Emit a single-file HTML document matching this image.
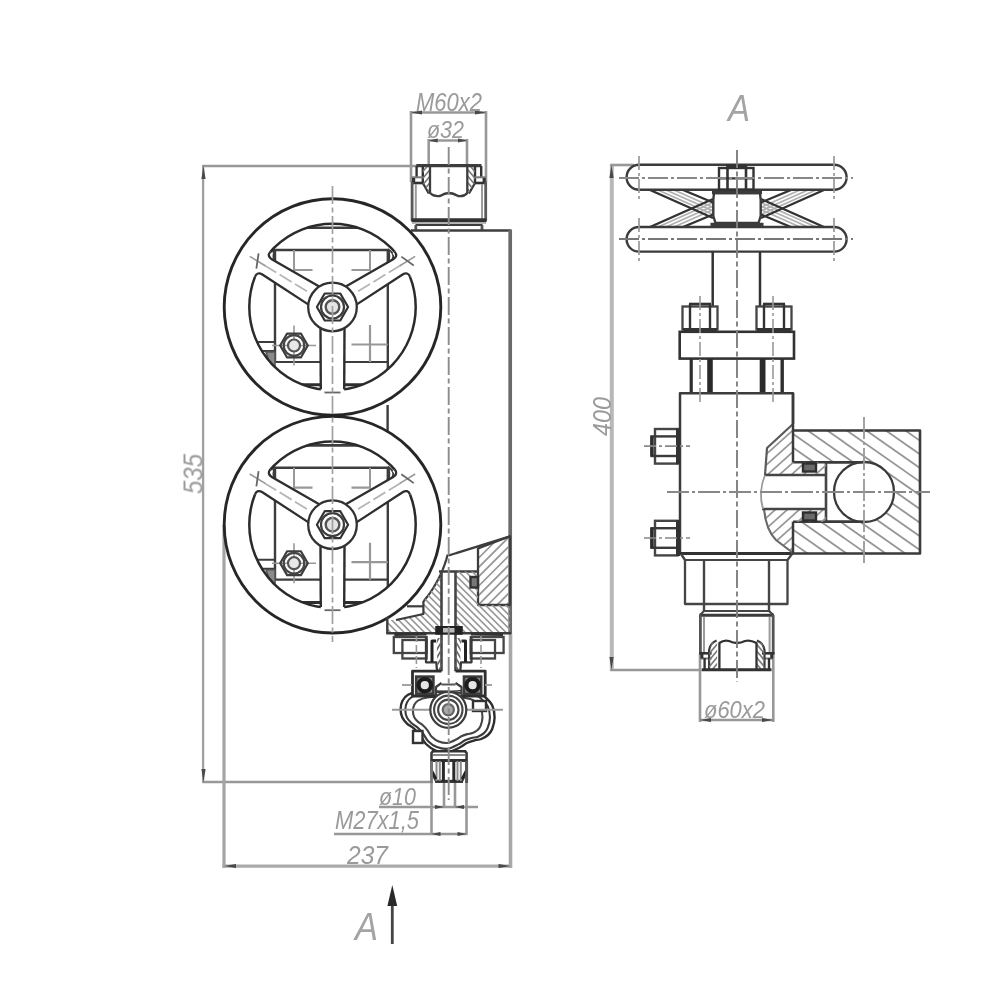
<!DOCTYPE html>
<html lang="ru">
<head>
<meta charset="utf-8">
<title>Drawing</title>
<style>
html,body{margin:0;padding:0;background:#fff;}
body{width:1000px;height:1000px;overflow:hidden;}
svg{display:block;position:absolute;left:0;top:0;}
svg text{font-family:"Liberation Sans",sans-serif;font-style:italic;}
</style>
</head>
<body>
<svg width="1000" height="1000" viewBox="0 0 1000 1000">
<defs><filter id="bl" x="0" y="0" width="1000" height="1000" filterUnits="userSpaceOnUse"><feGaussianBlur stdDeviation="0.55"/></filter></defs>
<rect x="0" y="0" width="1000" height="1000" fill="#ffffff"/>
<g filter="url(#bl)">
<line x1="203.1" y1="165" x2="203.1" y2="783" stroke="#a0a0a0" stroke-width="2.3" stroke-linecap="butt"/>
<line x1="202.5" y1="166" x2="417" y2="166" stroke="#989898" stroke-width="2.6" stroke-linecap="butt"/>
<line x1="202.5" y1="782" x2="432" y2="782" stroke="#989898" stroke-width="2.6" stroke-linecap="butt"/>
<polygon points="203.5,166 205.6,179 201.4,179" fill="#484848"/>
<polygon points="203.5,782 201.4,769 205.6,769" fill="#484848"/>
<line x1="224" y1="525" x2="224" y2="868" stroke="#a4a4a4" stroke-width="3.2" stroke-linecap="butt"/>
<line x1="510.5" y1="634" x2="510.5" y2="868" stroke="#a8a8a8" stroke-width="3.6" stroke-linecap="butt"/>
<line x1="222.5" y1="866.2" x2="512" y2="866.2" stroke="#aaaaaa" stroke-width="3.3" stroke-linecap="butt"/>
<polygon points="224,866 236,863.9 236,868.1" fill="#484848"/>
<polygon points="510.5,866 498.5,868.1 498.5,863.9" fill="#484848"/>
<line x1="411" y1="111" x2="411" y2="182" stroke="#989898" stroke-width="2.6" stroke-linecap="butt"/>
<line x1="486" y1="111" x2="486" y2="182" stroke="#989898" stroke-width="2.6" stroke-linecap="butt"/>
<line x1="411" y1="112.5" x2="486" y2="112.5" stroke="#989898" stroke-width="2.6" stroke-linecap="butt"/>
<polygon points="411,112.5 422,110.4 422,114.6" fill="#484848"/>
<polygon points="486,112.5 475,114.6 475,110.4" fill="#484848"/>
<line x1="428.7" y1="139" x2="428.7" y2="166" stroke="#989898" stroke-width="2.6" stroke-linecap="butt"/>
<line x1="467" y1="139" x2="467" y2="166" stroke="#989898" stroke-width="2.6" stroke-linecap="butt"/>
<line x1="428.7" y1="140.5" x2="467" y2="140.5" stroke="#989898" stroke-width="2.6" stroke-linecap="butt"/>
<polygon points="428.7,140.5 437.7,138.4 437.7,142.6" fill="#484848"/>
<polygon points="467,140.5 458,142.6 458,138.4" fill="#484848"/>
<line x1="444" y1="782" x2="444" y2="808" stroke="#989898" stroke-width="2.6" stroke-linecap="butt"/>
<line x1="455" y1="782" x2="455" y2="808" stroke="#989898" stroke-width="2.6" stroke-linecap="butt"/>
<line x1="379" y1="807" x2="478" y2="807" stroke="#989898" stroke-width="2.6" stroke-linecap="butt"/>
<polygon points="444,807 435,809.1 435,804.9" fill="#484848"/>
<polygon points="455,807 464,804.9 464,809.1" fill="#484848"/>
<line x1="431.5" y1="782" x2="431.5" y2="835" stroke="#989898" stroke-width="2.6" stroke-linecap="butt"/>
<line x1="466.5" y1="782" x2="466.5" y2="835" stroke="#989898" stroke-width="2.6" stroke-linecap="butt"/>
<line x1="334" y1="834" x2="467" y2="834" stroke="#989898" stroke-width="2.6" stroke-linecap="butt"/>
<polygon points="431.5,834 440.5,831.9 440.5,836.1" fill="#484848"/>
<polygon points="466.5,834 457.5,836.1 457.5,831.9" fill="#484848"/>
<line x1="611.8" y1="164" x2="611.8" y2="671" stroke="#b8b8b8" stroke-width="4" stroke-linecap="butt"/>
<line x1="610.5" y1="165" x2="634" y2="165" stroke="#989898" stroke-width="2.6" stroke-linecap="butt"/>
<line x1="610.5" y1="670" x2="702" y2="670" stroke="#989898" stroke-width="2.6" stroke-linecap="butt"/>
<polygon points="611.5,165 613.6,178 609.4,178" fill="#484848"/>
<polygon points="611.5,670 609.4,657 613.6,657" fill="#484848"/>
<line x1="700" y1="654" x2="700" y2="722" stroke="#989898" stroke-width="2.6" stroke-linecap="butt"/>
<line x1="773.3" y1="654" x2="773.3" y2="722" stroke="#989898" stroke-width="2.6" stroke-linecap="butt"/>
<line x1="700" y1="720" x2="773" y2="720" stroke="#989898" stroke-width="2.6" stroke-linecap="butt"/>
<polygon points="700,720 711,717.9 711,722.1" fill="#484848"/>
<polygon points="773,720 762,722.1 762,717.9" fill="#484848"/>
<line x1="416.3" y1="165.6" x2="481.5" y2="165.6" stroke="#3c3c3c" stroke-width="3.2" stroke-linecap="butt"/>
<line x1="481.2" y1="166" x2="481.2" y2="177.5" stroke="#333" stroke-width="2.4" stroke-linecap="butt"/>
<line x1="475" y1="166" x2="475" y2="183" stroke="#333" stroke-width="2.4" stroke-linecap="butt"/>
<line x1="475" y1="183" x2="469" y2="193.5" stroke="#333" stroke-width="2.2" stroke-linecap="butt"/>
<line x1="475" y1="177.3" x2="486" y2="177.3" stroke="#7a7a7a" stroke-width="2" stroke-linecap="butt"/>
<line x1="475" y1="183" x2="486.8" y2="183" stroke="#333" stroke-width="2.6" stroke-linecap="butt"/>
<line x1="484.2" y1="178" x2="484.2" y2="183" stroke="#333" stroke-width="3.2" stroke-linecap="butt"/>
<line x1="485.7" y1="182" x2="485.7" y2="221" stroke="#5a5a5a" stroke-width="2.8" stroke-linecap="butt"/>
<line x1="482" y1="184" x2="482" y2="219" stroke="#9a9a9a" stroke-width="2" stroke-linecap="butt"/>
<clipPath id="h1"><path d="M467.5 167 L475 167 L475 183 L469 193.5 L467.5 193 Z"/></clipPath>
<g clip-path="url(#h1)">
<line x1="464.01" y1="210.83" x2="439.88" y2="182.07" stroke="#777" stroke-width="1.6" stroke-linecap="butt"/>
<line x1="467.23" y1="208.13" x2="443.1" y2="179.37" stroke="#777" stroke-width="1.6" stroke-linecap="butt"/>
<line x1="470.45" y1="205.43" x2="446.32" y2="176.67" stroke="#777" stroke-width="1.6" stroke-linecap="butt"/>
<line x1="473.66" y1="202.73" x2="449.53" y2="173.97" stroke="#777" stroke-width="1.6" stroke-linecap="butt"/>
<line x1="476.88" y1="200.03" x2="452.75" y2="171.27" stroke="#777" stroke-width="1.6" stroke-linecap="butt"/>
<line x1="480.1" y1="197.33" x2="455.97" y2="168.57" stroke="#777" stroke-width="1.6" stroke-linecap="butt"/>
<line x1="483.32" y1="194.63" x2="459.18" y2="165.87" stroke="#777" stroke-width="1.6" stroke-linecap="butt"/>
<line x1="486.53" y1="191.93" x2="462.4" y2="163.17" stroke="#777" stroke-width="1.6" stroke-linecap="butt"/>
<line x1="489.75" y1="189.23" x2="465.62" y2="160.47" stroke="#777" stroke-width="1.6" stroke-linecap="butt"/>
<line x1="492.97" y1="186.53" x2="468.84" y2="157.77" stroke="#777" stroke-width="1.6" stroke-linecap="butt"/>
<line x1="496.18" y1="183.83" x2="472.05" y2="155.07" stroke="#777" stroke-width="1.6" stroke-linecap="butt"/>
<line x1="499.4" y1="181.13" x2="475.27" y2="152.37" stroke="#777" stroke-width="1.6" stroke-linecap="butt"/>
<line x1="502.62" y1="178.43" x2="478.49" y2="149.67" stroke="#777" stroke-width="1.6" stroke-linecap="butt"/>
</g>
<line x1="416.6" y1="166" x2="416.6" y2="177.5" stroke="#333" stroke-width="2.4" stroke-linecap="butt"/>
<line x1="422.8" y1="166" x2="422.8" y2="183" stroke="#333" stroke-width="2.4" stroke-linecap="butt"/>
<line x1="422.8" y1="183" x2="428.8" y2="193.5" stroke="#333" stroke-width="2.2" stroke-linecap="butt"/>
<line x1="422.8" y1="177.3" x2="411.8" y2="177.3" stroke="#7a7a7a" stroke-width="2" stroke-linecap="butt"/>
<line x1="422.8" y1="183" x2="411" y2="183" stroke="#333" stroke-width="2.6" stroke-linecap="butt"/>
<line x1="413.6" y1="178" x2="413.6" y2="183" stroke="#333" stroke-width="3.2" stroke-linecap="butt"/>
<line x1="412.1" y1="182" x2="412.1" y2="221" stroke="#5a5a5a" stroke-width="2.8" stroke-linecap="butt"/>
<line x1="415.8" y1="184" x2="415.8" y2="219" stroke="#9a9a9a" stroke-width="2" stroke-linecap="butt"/>
<clipPath id="h2"><path d="M430.3 167 L422.8 167 L422.8 183 L428.8 193.5 L430.3 193 Z"/></clipPath>
<g clip-path="url(#h2)">
<line x1="395.18" y1="178.43" x2="419.31" y2="149.67" stroke="#777" stroke-width="1.6" stroke-linecap="butt"/>
<line x1="398.4" y1="181.13" x2="422.53" y2="152.37" stroke="#777" stroke-width="1.6" stroke-linecap="butt"/>
<line x1="401.62" y1="183.83" x2="425.75" y2="155.07" stroke="#777" stroke-width="1.6" stroke-linecap="butt"/>
<line x1="404.83" y1="186.53" x2="428.96" y2="157.77" stroke="#777" stroke-width="1.6" stroke-linecap="butt"/>
<line x1="408.05" y1="189.23" x2="432.18" y2="160.47" stroke="#777" stroke-width="1.6" stroke-linecap="butt"/>
<line x1="411.27" y1="191.93" x2="435.4" y2="163.17" stroke="#777" stroke-width="1.6" stroke-linecap="butt"/>
<line x1="414.48" y1="194.63" x2="438.62" y2="165.87" stroke="#777" stroke-width="1.6" stroke-linecap="butt"/>
<line x1="417.7" y1="197.33" x2="441.83" y2="168.57" stroke="#777" stroke-width="1.6" stroke-linecap="butt"/>
<line x1="420.92" y1="200.03" x2="445.05" y2="171.27" stroke="#777" stroke-width="1.6" stroke-linecap="butt"/>
<line x1="424.14" y1="202.73" x2="448.27" y2="173.97" stroke="#777" stroke-width="1.6" stroke-linecap="butt"/>
<line x1="427.35" y1="205.43" x2="451.48" y2="176.67" stroke="#777" stroke-width="1.6" stroke-linecap="butt"/>
<line x1="430.57" y1="208.13" x2="454.7" y2="179.37" stroke="#777" stroke-width="1.6" stroke-linecap="butt"/>
<line x1="433.79" y1="210.83" x2="457.92" y2="182.07" stroke="#777" stroke-width="1.6" stroke-linecap="butt"/>
</g>
<line x1="411.5" y1="220.3" x2="486.5" y2="220.3" stroke="#333" stroke-width="4" stroke-linecap="butt"/>
<line x1="412" y1="223" x2="486" y2="223" stroke="#a0a0a0" stroke-width="1.6" stroke-linecap="butt"/>
<line x1="415.5" y1="225" x2="482.5" y2="225" stroke="#3c3c3c" stroke-width="2.2" stroke-linecap="butt"/>
<line x1="415.8" y1="225" x2="415.8" y2="231" stroke="#555" stroke-width="2.8" stroke-linecap="butt"/>
<line x1="482" y1="225" x2="482" y2="231" stroke="#555" stroke-width="2.8" stroke-linecap="butt"/>
<path d="M430 166 L430 193 Q434 197 440 196 Q445 193 449 193 Q453 193 458 196 Q464 197 467.3 193 L467.3 166" stroke="#3c3c3c" stroke-width="2.3" fill="none" stroke-linejoin="round" />
<line x1="411" y1="230.5" x2="511" y2="230.5" stroke="#3c3c3c" stroke-width="2.4" stroke-linecap="butt"/>
<line x1="510.2" y1="229.5" x2="510.2" y2="634" stroke="#6a6a6a" stroke-width="3.7" stroke-linecap="butt"/>
<line x1="387.6" y1="405" x2="387.6" y2="432" stroke="#3c3c3c" stroke-width="2.4" stroke-linecap="butt"/>
<clipPath id="w307"><circle cx="332.5" cy="307" r="83.2"/></clipPath>
<g clip-path="url(#w307)">
<line x1="242.5" y1="227.7" x2="422.5" y2="227.7" stroke="#3c3c3c" stroke-width="2.6" stroke-linecap="butt"/>
<line x1="242.5" y1="384.7" x2="422.5" y2="384.7" stroke="#2e2e2e" stroke-width="3" stroke-linecap="butt"/>
<line x1="275" y1="250" x2="387.8" y2="250" stroke="#3c3c3c" stroke-width="2.4" stroke-linecap="butt"/>
<line x1="275" y1="250" x2="275" y2="362" stroke="#3c3c3c" stroke-width="2.4" stroke-linecap="butt"/>
<line x1="387.8" y1="250" x2="387.8" y2="385" stroke="#3c3c3c" stroke-width="2.4" stroke-linecap="butt"/>
<line x1="275" y1="362" x2="387.8" y2="362" stroke="#3c3c3c" stroke-width="2.2" stroke-linecap="butt"/>
<path d="M275 249 Q264 256 275 264 Q272 256 275 249" stroke="#3c3c3c" stroke-width="2" fill="none" stroke-linejoin="round" />
<path d="M387.8 249 Q398.8 256 387.8 264 Q390.8 256 387.8 249" stroke="#3c3c3c" stroke-width="2" fill="none" stroke-linejoin="round" />
<line x1="294" y1="250" x2="294" y2="271" stroke="#989898" stroke-width="2" stroke-linecap="butt"/>
<line x1="370" y1="250" x2="370" y2="271" stroke="#989898" stroke-width="2" stroke-linecap="butt"/>
<line x1="294" y1="270" x2="312.5" y2="270" stroke="#989898" stroke-width="2.2" stroke-linecap="butt"/>
<line x1="351.5" y1="270" x2="370" y2="270" stroke="#989898" stroke-width="2.2" stroke-linecap="butt"/>
<line x1="351.5" y1="344.5" x2="387.8" y2="344.5" stroke="#989898" stroke-width="2.2" stroke-linecap="butt"/>
<line x1="370" y1="325" x2="370" y2="362" stroke="#989898" stroke-width="2.2" stroke-linecap="butt"/>
<path d="M258 342 L275 342 L275 351 L258 351" stroke="#3c3c3c" stroke-width="2" fill="none" stroke-linejoin="round" />
<path d="M266 352 L275 352 L275 366 L270 364 Z" stroke="#555" stroke-width="1.6" fill="#8a8a8a" stroke-linejoin="round" />
<line x1="272" y1="345.5" x2="316" y2="345.5" stroke="#989898" stroke-width="1.6" stroke-linecap="butt"/>
<line x1="294" y1="325.5" x2="294" y2="365.5" stroke="#989898" stroke-width="1.6" stroke-linecap="butt"/>
<path d="M307.8 345.5 L300.9 357.45 L287.1 357.45 L280.2 345.5 L287.1 333.55 L300.9 333.55 Z" stroke="#3c3c3c" stroke-width="2.2" fill="none" stroke-linejoin="round" />
<circle cx="294" cy="345.5" r="10.3" stroke="#444" stroke-width="2.2" fill="none"/>
<circle cx="294" cy="345.5" r="6" stroke="#555" stroke-width="2.2" fill="#e8e8e8"/>
</g>
<circle cx="332.5" cy="307" r="108.3" stroke="#282828" stroke-width="2.9" fill="none"/>
<circle cx="332.5" cy="307" r="83.2" stroke="#2c2c2c" stroke-width="2.5" fill="none"/>
<path d="M320.48 325 L320.82 394.2 L344.18 394.2 L344.52 325 Z" stroke="none" stroke-width="0" fill="#fff" stroke-linejoin="round" />
<path d="M343.2 389.51 A83.2 83.2 0 0 1 321.8 389.51" stroke="#fff" stroke-width="5.5" fill="none"/>
<line x1="320.48" y1="325" x2="320.8" y2="389.37" stroke="#2e2e2e" stroke-width="2.4" stroke-linecap="butt"/>
<line x1="344.52" y1="325" x2="344.2" y2="389.37" stroke="#2e2e2e" stroke-width="2.4" stroke-linecap="butt"/>
<line x1="324.5" y1="392.5" x2="340.5" y2="392.5" stroke="#666" stroke-width="1.8" stroke-linecap="butt"/>
<path d="M322.7 288.55 L262.69 254.03 L253.61 268.85 L311.61 306.64 Z" stroke="none" stroke-width="0" fill="#fff" stroke-linejoin="round" />
<path d="M254.98 276.79 A83.2 83.2 0 0 1 270.39 251.64" stroke="#fff" stroke-width="5.5" fill="none"/>
<path d="M322.7 288.55 L271.77 259.25 Q266.56 256.26 270.39 251.64" stroke="#2e2e2e" stroke-width="2.3" fill="none" stroke-linejoin="round" />
<path d="M311.61 306.64 L262.38 274.56 Q257.35 271.29 254.98 276.79" stroke="#2e2e2e" stroke-width="2.3" fill="none" stroke-linejoin="round" />
<line x1="306.92" y1="291.33" x2="264.29" y2="265.2" stroke="#b5b5b5" stroke-width="1.8" stroke-dasharray="14 4" stroke-linecap="butt"/>
<line x1="265.14" y1="265.72" x2="249.79" y2="256.32" stroke="#999" stroke-width="1.6" stroke-linecap="butt"/>
<line x1="256.37" y1="268.56" x2="258.57" y2="253.48" stroke="#666" stroke-width="1.8" stroke-linecap="butt"/>
<path d="M353.39 306.64 L411.39 268.85 L402.31 254.03 L342.3 288.55 Z" stroke="none" stroke-width="0" fill="#fff" stroke-linejoin="round" />
<path d="M394.61 251.64 A83.2 83.2 0 0 1 410.02 276.79" stroke="#fff" stroke-width="5.5" fill="none"/>
<path d="M353.39 306.64 L402.62 274.56 Q407.65 271.29 410.02 276.79" stroke="#2e2e2e" stroke-width="2.3" fill="none" stroke-linejoin="round" />
<path d="M342.3 288.55 L393.23 259.25 Q398.44 256.26 394.61 251.64" stroke="#2e2e2e" stroke-width="2.3" fill="none" stroke-linejoin="round" />
<line x1="358.08" y1="291.33" x2="400.71" y2="265.2" stroke="#b5b5b5" stroke-width="1.8" stroke-dasharray="14 4" stroke-linecap="butt"/>
<line x1="399.86" y1="265.72" x2="415.21" y2="256.32" stroke="#999" stroke-width="1.6" stroke-linecap="butt"/>
<line x1="401.32" y1="256.62" x2="413.75" y2="265.42" stroke="#666" stroke-width="1.8" stroke-linecap="butt"/>
<circle cx="332.5" cy="307" r="24.3" stroke="#333" stroke-width="2.3" fill="#fff"/>
<path d="M348.1 307 L340.3 320.51 L324.7 320.51 L316.9 307 L324.7 293.49 L340.3 293.49 Z" stroke="#333" stroke-width="2.2" fill="none" stroke-linejoin="round" />
<circle cx="332.5" cy="307" r="11.5" stroke="#3c3c3c" stroke-width="2.2" fill="none"/>
<circle cx="332.5" cy="307" r="6.8" stroke="#555" stroke-width="2.4" fill="#e4e4e4"/>
<clipPath id="w524"><circle cx="332.5" cy="524.7" r="83.2"/></clipPath>
<g clip-path="url(#w524)">
<line x1="242.5" y1="445.4" x2="422.5" y2="445.4" stroke="#3c3c3c" stroke-width="2.6" stroke-linecap="butt"/>
<line x1="242.5" y1="602.4" x2="422.5" y2="602.4" stroke="#2e2e2e" stroke-width="3" stroke-linecap="butt"/>
<line x1="275" y1="467.7" x2="387.8" y2="467.7" stroke="#3c3c3c" stroke-width="2.4" stroke-linecap="butt"/>
<line x1="275" y1="467.7" x2="275" y2="579.7" stroke="#3c3c3c" stroke-width="2.4" stroke-linecap="butt"/>
<line x1="387.8" y1="467.7" x2="387.8" y2="602.7" stroke="#3c3c3c" stroke-width="2.4" stroke-linecap="butt"/>
<line x1="275" y1="579.7" x2="387.8" y2="579.7" stroke="#3c3c3c" stroke-width="2.2" stroke-linecap="butt"/>
<path d="M275 466.7 Q264 473.7 275 481.7 Q272 473.7 275 466.7" stroke="#3c3c3c" stroke-width="2" fill="none" stroke-linejoin="round" />
<path d="M387.8 466.7 Q398.8 473.7 387.8 481.7 Q390.8 473.7 387.8 466.7" stroke="#3c3c3c" stroke-width="2" fill="none" stroke-linejoin="round" />
<line x1="294" y1="467.7" x2="294" y2="488.7" stroke="#989898" stroke-width="2" stroke-linecap="butt"/>
<line x1="370" y1="467.7" x2="370" y2="488.7" stroke="#989898" stroke-width="2" stroke-linecap="butt"/>
<line x1="294" y1="487.7" x2="312.5" y2="487.7" stroke="#989898" stroke-width="2.2" stroke-linecap="butt"/>
<line x1="351.5" y1="487.7" x2="370" y2="487.7" stroke="#989898" stroke-width="2.2" stroke-linecap="butt"/>
<line x1="351.5" y1="562.2" x2="387.8" y2="562.2" stroke="#989898" stroke-width="2.2" stroke-linecap="butt"/>
<line x1="370" y1="542.7" x2="370" y2="579.7" stroke="#989898" stroke-width="2.2" stroke-linecap="butt"/>
<path d="M258 559.7 L275 559.7 L275 568.7 L258 568.7" stroke="#3c3c3c" stroke-width="2" fill="none" stroke-linejoin="round" />
<path d="M266 569.7 L275 569.7 L275 583.7 L270 581.7 Z" stroke="#555" stroke-width="1.6" fill="#8a8a8a" stroke-linejoin="round" />
<line x1="272" y1="563.2" x2="316" y2="563.2" stroke="#989898" stroke-width="1.6" stroke-linecap="butt"/>
<line x1="294" y1="543.2" x2="294" y2="583.2" stroke="#989898" stroke-width="1.6" stroke-linecap="butt"/>
<path d="M307.8 563.2 L300.9 575.15 L287.1 575.15 L280.2 563.2 L287.1 551.25 L300.9 551.25 Z" stroke="#3c3c3c" stroke-width="2.2" fill="none" stroke-linejoin="round" />
<circle cx="294" cy="563.2" r="10.3" stroke="#444" stroke-width="2.2" fill="none"/>
<circle cx="294" cy="563.2" r="6" stroke="#555" stroke-width="2.2" fill="#e8e8e8"/>
</g>
<circle cx="332.5" cy="524.7" r="108.3" stroke="#282828" stroke-width="2.9" fill="none"/>
<circle cx="332.5" cy="524.7" r="83.2" stroke="#2c2c2c" stroke-width="2.5" fill="none"/>
<path d="M320.48 542.7 L320.82 611.9 L344.18 611.9 L344.52 542.7 Z" stroke="none" stroke-width="0" fill="#fff" stroke-linejoin="round" />
<path d="M343.2 607.21 A83.2 83.2 0 0 1 321.8 607.21" stroke="#fff" stroke-width="5.5" fill="none"/>
<line x1="320.48" y1="542.7" x2="320.8" y2="607.07" stroke="#2e2e2e" stroke-width="2.4" stroke-linecap="butt"/>
<line x1="344.52" y1="542.7" x2="344.2" y2="607.07" stroke="#2e2e2e" stroke-width="2.4" stroke-linecap="butt"/>
<line x1="324.5" y1="610.2" x2="340.5" y2="610.2" stroke="#666" stroke-width="1.8" stroke-linecap="butt"/>
<path d="M322.7 506.25 L262.69 471.73 L253.61 486.55 L311.61 524.34 Z" stroke="none" stroke-width="0" fill="#fff" stroke-linejoin="round" />
<path d="M254.98 494.49 A83.2 83.2 0 0 1 270.39 469.34" stroke="#fff" stroke-width="5.5" fill="none"/>
<path d="M322.7 506.25 L271.77 476.95 Q266.56 473.96 270.39 469.34" stroke="#2e2e2e" stroke-width="2.3" fill="none" stroke-linejoin="round" />
<path d="M311.61 524.34 L262.38 492.26 Q257.35 488.99 254.98 494.49" stroke="#2e2e2e" stroke-width="2.3" fill="none" stroke-linejoin="round" />
<line x1="306.92" y1="509.03" x2="264.29" y2="482.9" stroke="#b5b5b5" stroke-width="1.8" stroke-dasharray="14 4" stroke-linecap="butt"/>
<line x1="265.14" y1="483.42" x2="249.79" y2="474.02" stroke="#999" stroke-width="1.6" stroke-linecap="butt"/>
<line x1="256.37" y1="486.26" x2="258.57" y2="471.18" stroke="#666" stroke-width="1.8" stroke-linecap="butt"/>
<path d="M353.39 524.34 L411.39 486.55 L402.31 471.73 L342.3 506.25 Z" stroke="none" stroke-width="0" fill="#fff" stroke-linejoin="round" />
<path d="M394.61 469.34 A83.2 83.2 0 0 1 410.02 494.49" stroke="#fff" stroke-width="5.5" fill="none"/>
<path d="M353.39 524.34 L402.62 492.26 Q407.65 488.99 410.02 494.49" stroke="#2e2e2e" stroke-width="2.3" fill="none" stroke-linejoin="round" />
<path d="M342.3 506.25 L393.23 476.95 Q398.44 473.96 394.61 469.34" stroke="#2e2e2e" stroke-width="2.3" fill="none" stroke-linejoin="round" />
<line x1="358.08" y1="509.03" x2="400.71" y2="482.9" stroke="#b5b5b5" stroke-width="1.8" stroke-dasharray="14 4" stroke-linecap="butt"/>
<line x1="399.86" y1="483.42" x2="415.21" y2="474.02" stroke="#999" stroke-width="1.6" stroke-linecap="butt"/>
<line x1="401.32" y1="474.32" x2="413.75" y2="483.12" stroke="#666" stroke-width="1.8" stroke-linecap="butt"/>
<circle cx="332.5" cy="524.7" r="24.3" stroke="#333" stroke-width="2.3" fill="#fff"/>
<path d="M348.1 524.7 L340.3 538.21 L324.7 538.21 L316.9 524.7 L324.7 511.19 L340.3 511.19 Z" stroke="#333" stroke-width="2.2" fill="none" stroke-linejoin="round" />
<circle cx="332.5" cy="524.7" r="11.5" stroke="#3c3c3c" stroke-width="2.2" fill="none"/>
<circle cx="332.5" cy="524.7" r="6.8" stroke="#555" stroke-width="2.4" fill="#e4e4e4"/>
<line x1="322" y1="415.8" x2="343" y2="415.8" stroke="#222" stroke-width="3" stroke-linecap="butt"/>
<clipPath id="h3"><path d="M478 548.5 L510 536.3 L510 605 L478 605 Z"/></clipPath>
<g clip-path="url(#h3)">
<line x1="426.33" y1="563.65" x2="487" y2="502.98" stroke="#969696" stroke-width="1.7" stroke-linecap="butt"/>
<line x1="431" y1="568.31" x2="491.66" y2="507.65" stroke="#969696" stroke-width="1.7" stroke-linecap="butt"/>
<line x1="435.67" y1="572.98" x2="496.33" y2="512.32" stroke="#969696" stroke-width="1.7" stroke-linecap="butt"/>
<line x1="440.34" y1="577.65" x2="501" y2="516.99" stroke="#969696" stroke-width="1.7" stroke-linecap="butt"/>
<line x1="445" y1="582.31" x2="505.66" y2="521.65" stroke="#969696" stroke-width="1.7" stroke-linecap="butt"/>
<line x1="449.67" y1="586.98" x2="510.33" y2="526.32" stroke="#969696" stroke-width="1.7" stroke-linecap="butt"/>
<line x1="454.34" y1="591.65" x2="515" y2="530.99" stroke="#969696" stroke-width="1.7" stroke-linecap="butt"/>
<line x1="459" y1="596.31" x2="519.66" y2="535.65" stroke="#969696" stroke-width="1.7" stroke-linecap="butt"/>
<line x1="463.67" y1="600.98" x2="524.33" y2="540.32" stroke="#969696" stroke-width="1.7" stroke-linecap="butt"/>
<line x1="468.34" y1="605.65" x2="529" y2="544.99" stroke="#969696" stroke-width="1.7" stroke-linecap="butt"/>
<line x1="473" y1="610.31" x2="533.66" y2="549.65" stroke="#969696" stroke-width="1.7" stroke-linecap="butt"/>
<line x1="477.67" y1="614.98" x2="538.33" y2="554.32" stroke="#969696" stroke-width="1.7" stroke-linecap="butt"/>
<line x1="482.34" y1="619.65" x2="543" y2="558.99" stroke="#969696" stroke-width="1.7" stroke-linecap="butt"/>
<line x1="487" y1="624.31" x2="547.66" y2="563.65" stroke="#969696" stroke-width="1.7" stroke-linecap="butt"/>
<line x1="491.67" y1="628.98" x2="552.33" y2="568.32" stroke="#969696" stroke-width="1.7" stroke-linecap="butt"/>
<line x1="496.34" y1="633.65" x2="557" y2="572.99" stroke="#969696" stroke-width="1.7" stroke-linecap="butt"/>
<line x1="501" y1="638.32" x2="561.67" y2="577.65" stroke="#969696" stroke-width="1.7" stroke-linecap="butt"/>
</g>
<path d="M478 548.5 L510 536.3 L510 605 L478 605 Z" stroke="#3c3c3c" stroke-width="2.3" fill="none" stroke-linejoin="round" />
<line x1="448.6" y1="555.5" x2="510" y2="536.3" stroke="#3c3c3c" stroke-width="2.3" stroke-linecap="butt"/>
<path d="M447.71 554.5 L446.27 559.59 L444.6 564.62 L442.72 569.57 L440.61 574.43 L438.29 579.19 L435.76 583.84 L433.03 588.38 L430.1 592.79 L426.97 597.06 L423.66 601.19" stroke="#3c3c3c" stroke-width="2.2" fill="none" stroke-linejoin="round" />
<line x1="439" y1="571.5" x2="478" y2="571.5" stroke="#3c3c3c" stroke-width="2.4" stroke-linecap="butt"/>
<clipPath id="h4"><path d="M455.5 571.5 L478 571.5 L478 605 L510 605 L510 633.3 L455.5 633.3 Z"/></clipPath>
<g clip-path="url(#h4)">
<line x1="487.42" y1="532.4" x2="552.75" y2="597.73" stroke="#969696" stroke-width="1.6" stroke-linecap="butt"/>
<line x1="484.02" y1="535.79" x2="549.36" y2="601.13" stroke="#969696" stroke-width="1.6" stroke-linecap="butt"/>
<line x1="480.63" y1="539.19" x2="545.96" y2="604.52" stroke="#969696" stroke-width="1.6" stroke-linecap="butt"/>
<line x1="477.24" y1="542.58" x2="542.57" y2="607.91" stroke="#969696" stroke-width="1.6" stroke-linecap="butt"/>
<line x1="473.84" y1="545.97" x2="539.18" y2="611.31" stroke="#969696" stroke-width="1.6" stroke-linecap="butt"/>
<line x1="470.45" y1="549.37" x2="535.78" y2="614.7" stroke="#969696" stroke-width="1.6" stroke-linecap="butt"/>
<line x1="467.05" y1="552.76" x2="532.39" y2="618.1" stroke="#969696" stroke-width="1.6" stroke-linecap="butt"/>
<line x1="463.66" y1="556.16" x2="528.99" y2="621.49" stroke="#969696" stroke-width="1.6" stroke-linecap="butt"/>
<line x1="460.26" y1="559.55" x2="525.6" y2="624.89" stroke="#969696" stroke-width="1.6" stroke-linecap="butt"/>
<line x1="456.87" y1="562.94" x2="522.21" y2="628.28" stroke="#969696" stroke-width="1.6" stroke-linecap="butt"/>
<line x1="453.48" y1="566.34" x2="518.81" y2="631.67" stroke="#969696" stroke-width="1.6" stroke-linecap="butt"/>
<line x1="450.08" y1="569.73" x2="515.42" y2="635.07" stroke="#969696" stroke-width="1.6" stroke-linecap="butt"/>
<line x1="446.69" y1="573.13" x2="512.02" y2="638.46" stroke="#969696" stroke-width="1.6" stroke-linecap="butt"/>
<line x1="443.29" y1="576.52" x2="508.63" y2="641.86" stroke="#969696" stroke-width="1.6" stroke-linecap="butt"/>
<line x1="439.9" y1="579.91" x2="505.24" y2="645.25" stroke="#969696" stroke-width="1.6" stroke-linecap="butt"/>
<line x1="436.51" y1="583.31" x2="501.84" y2="648.64" stroke="#969696" stroke-width="1.6" stroke-linecap="butt"/>
<line x1="433.11" y1="586.7" x2="498.45" y2="652.04" stroke="#969696" stroke-width="1.6" stroke-linecap="butt"/>
<line x1="429.72" y1="590.1" x2="495.05" y2="655.43" stroke="#969696" stroke-width="1.6" stroke-linecap="butt"/>
<line x1="426.32" y1="593.49" x2="491.66" y2="658.83" stroke="#969696" stroke-width="1.6" stroke-linecap="butt"/>
<line x1="422.93" y1="596.89" x2="488.26" y2="662.22" stroke="#969696" stroke-width="1.6" stroke-linecap="butt"/>
<line x1="419.54" y1="600.28" x2="484.87" y2="665.61" stroke="#969696" stroke-width="1.6" stroke-linecap="butt"/>
<line x1="416.14" y1="603.67" x2="481.48" y2="669.01" stroke="#969696" stroke-width="1.6" stroke-linecap="butt"/>
<line x1="412.75" y1="607.07" x2="478.08" y2="672.4" stroke="#969696" stroke-width="1.6" stroke-linecap="butt"/>
</g>
<clipPath id="h5"><path d="M441.5 571.5 L442.04 571.2 L439.61 576.55 L436.91 581.79 L433.96 586.88 L430.77 591.82 L427.33 596.59 L423.66 601.19 L423.4 614 L396 620 L387.3 620 L387.3 633.3 L441.5 633.3 Z"/></clipPath>
<g clip-path="url(#h5)">
<line x1="419.2" y1="532.11" x2="484.81" y2="597.72" stroke="#969696" stroke-width="1.6" stroke-linecap="butt"/>
<line x1="415.81" y1="535.5" x2="481.42" y2="601.11" stroke="#969696" stroke-width="1.6" stroke-linecap="butt"/>
<line x1="412.41" y1="538.9" x2="478.02" y2="604.51" stroke="#969696" stroke-width="1.6" stroke-linecap="butt"/>
<line x1="409.02" y1="542.29" x2="474.63" y2="607.9" stroke="#969696" stroke-width="1.6" stroke-linecap="butt"/>
<line x1="405.62" y1="545.69" x2="471.23" y2="611.29" stroke="#969696" stroke-width="1.6" stroke-linecap="butt"/>
<line x1="402.23" y1="549.08" x2="467.84" y2="614.69" stroke="#969696" stroke-width="1.6" stroke-linecap="butt"/>
<line x1="398.84" y1="552.47" x2="464.44" y2="618.08" stroke="#969696" stroke-width="1.6" stroke-linecap="butt"/>
<line x1="395.44" y1="555.87" x2="461.05" y2="621.48" stroke="#969696" stroke-width="1.6" stroke-linecap="butt"/>
<line x1="392.05" y1="559.26" x2="457.66" y2="624.87" stroke="#969696" stroke-width="1.6" stroke-linecap="butt"/>
<line x1="388.65" y1="562.66" x2="454.26" y2="628.26" stroke="#969696" stroke-width="1.6" stroke-linecap="butt"/>
<line x1="385.26" y1="566.05" x2="450.87" y2="631.66" stroke="#969696" stroke-width="1.6" stroke-linecap="butt"/>
<line x1="381.87" y1="569.44" x2="447.47" y2="635.05" stroke="#969696" stroke-width="1.6" stroke-linecap="butt"/>
<line x1="378.47" y1="572.84" x2="444.08" y2="638.45" stroke="#969696" stroke-width="1.6" stroke-linecap="butt"/>
<line x1="375.08" y1="576.23" x2="440.69" y2="641.84" stroke="#969696" stroke-width="1.6" stroke-linecap="butt"/>
<line x1="371.68" y1="579.63" x2="437.29" y2="645.24" stroke="#969696" stroke-width="1.6" stroke-linecap="butt"/>
<line x1="368.29" y1="583.02" x2="433.9" y2="648.63" stroke="#969696" stroke-width="1.6" stroke-linecap="butt"/>
<line x1="364.9" y1="586.41" x2="430.5" y2="652.02" stroke="#969696" stroke-width="1.6" stroke-linecap="butt"/>
<line x1="361.5" y1="589.81" x2="427.11" y2="655.42" stroke="#969696" stroke-width="1.6" stroke-linecap="butt"/>
<line x1="358.11" y1="593.2" x2="423.72" y2="658.81" stroke="#969696" stroke-width="1.6" stroke-linecap="butt"/>
<line x1="354.71" y1="596.6" x2="420.32" y2="662.21" stroke="#969696" stroke-width="1.6" stroke-linecap="butt"/>
<line x1="351.32" y1="599.99" x2="416.93" y2="665.6" stroke="#969696" stroke-width="1.6" stroke-linecap="butt"/>
<line x1="347.92" y1="603.39" x2="413.53" y2="668.99" stroke="#969696" stroke-width="1.6" stroke-linecap="butt"/>
<line x1="344.53" y1="606.78" x2="410.14" y2="672.39" stroke="#969696" stroke-width="1.6" stroke-linecap="butt"/>
</g>
<path d="M423.4 601 L423.4 614 L396 620" stroke="#3c3c3c" stroke-width="2.2" fill="none" stroke-linejoin="round" />
<line x1="407" y1="606.3" x2="423.4" y2="606.3" stroke="#3c3c3c" stroke-width="2.2" stroke-linecap="butt"/>
<line x1="387.3" y1="617" x2="387.3" y2="634" stroke="#3c3c3c" stroke-width="2.4" stroke-linecap="butt"/>
<line x1="386.5" y1="633.3" x2="511" y2="633.3" stroke="#3c3c3c" stroke-width="2.6" stroke-linecap="butt"/>
<line x1="441.5" y1="571.5" x2="441.5" y2="684" stroke="#444" stroke-width="2.6" stroke-linecap="butt"/>
<line x1="455.5" y1="571.5" x2="455.5" y2="684" stroke="#444" stroke-width="2.6" stroke-linecap="butt"/>
<rect x="470.5" y="577" width="7.5" height="10.5" stroke="#333" stroke-width="2.4" fill="#777"/>
<rect x="436.5" y="627" width="25" height="6.5" stroke="#222" stroke-width="2" fill="#bbb"/>
<rect x="436.5" y="627" width="5.5" height="6.5" stroke="#222" stroke-width="2" fill="#222"/>
<rect x="455.5" y="627" width="6" height="6.5" stroke="#222" stroke-width="2" fill="#222"/>
<rect x="470.8" y="637" width="32.8" height="16" stroke="#444" stroke-width="2.3" fill="none"/>
<rect x="470.8" y="640" width="24.2" height="18.5" stroke="#444" stroke-width="2.3" fill="none"/>
<line x1="481" y1="634" x2="481" y2="668" stroke="#999" stroke-width="1.6" stroke-dasharray="8 3" stroke-linecap="butt"/>
<line x1="471" y1="634" x2="503" y2="634.5" stroke="#333" stroke-width="3" stroke-linecap="butt"/>
<rect x="393.8" y="637" width="32.8" height="16" stroke="#444" stroke-width="2.3" fill="none"/>
<rect x="402.4" y="640" width="24.2" height="18.5" stroke="#444" stroke-width="2.3" fill="none"/>
<line x1="416.4" y1="634" x2="416.4" y2="668" stroke="#999" stroke-width="1.6" stroke-dasharray="8 3" stroke-linecap="butt"/>
<line x1="426.4" y1="634" x2="394.4" y2="634.5" stroke="#333" stroke-width="3" stroke-linecap="butt"/>
<path d="M426 637 L426 662.3 L436.3 662.3 L437 671 L441.5 671" stroke="#3a3a3a" stroke-width="2.3" fill="none" stroke-linejoin="round" />
<path d="M471.5 637 L471.5 662.3 L461 662.3 L460.3 671 L455.5 671" stroke="#3a3a3a" stroke-width="2.3" fill="none" stroke-linejoin="round" />
<clipPath id="h6"><path d="M436.5 638 L441.5 638 L441.5 670 L437.5 670 Z"/></clipPath>
<g clip-path="url(#h6)">
<line x1="404.15" y1="658.35" x2="425.35" y2="621.65" stroke="#666" stroke-width="1.6" stroke-linecap="butt"/>
<line x1="407.62" y1="660.35" x2="428.81" y2="623.65" stroke="#666" stroke-width="1.6" stroke-linecap="butt"/>
<line x1="411.08" y1="662.35" x2="432.28" y2="625.65" stroke="#666" stroke-width="1.6" stroke-linecap="butt"/>
<line x1="414.55" y1="664.35" x2="435.74" y2="627.65" stroke="#666" stroke-width="1.6" stroke-linecap="butt"/>
<line x1="418.01" y1="666.35" x2="439.2" y2="629.65" stroke="#666" stroke-width="1.6" stroke-linecap="butt"/>
<line x1="421.47" y1="668.35" x2="442.67" y2="631.65" stroke="#666" stroke-width="1.6" stroke-linecap="butt"/>
<line x1="424.94" y1="670.35" x2="446.13" y2="633.65" stroke="#666" stroke-width="1.6" stroke-linecap="butt"/>
<line x1="428.4" y1="672.35" x2="449.6" y2="635.65" stroke="#666" stroke-width="1.6" stroke-linecap="butt"/>
<line x1="431.87" y1="674.35" x2="453.06" y2="637.65" stroke="#666" stroke-width="1.6" stroke-linecap="butt"/>
<line x1="435.33" y1="676.35" x2="456.53" y2="639.65" stroke="#666" stroke-width="1.6" stroke-linecap="butt"/>
<line x1="438.8" y1="678.35" x2="459.99" y2="641.65" stroke="#666" stroke-width="1.6" stroke-linecap="butt"/>
<line x1="442.26" y1="680.35" x2="463.45" y2="643.65" stroke="#666" stroke-width="1.6" stroke-linecap="butt"/>
<line x1="445.72" y1="682.35" x2="466.92" y2="645.65" stroke="#666" stroke-width="1.6" stroke-linecap="butt"/>
<line x1="449.19" y1="684.35" x2="470.38" y2="647.65" stroke="#666" stroke-width="1.6" stroke-linecap="butt"/>
<line x1="452.65" y1="686.35" x2="473.85" y2="649.65" stroke="#666" stroke-width="1.6" stroke-linecap="butt"/>
</g>
<clipPath id="h7"><path d="M461 638 L455.5 638 L455.5 670 L460 670 Z"/></clipPath>
<g clip-path="url(#h7)">
<line x1="444.62" y1="686.39" x2="423.38" y2="649.61" stroke="#666" stroke-width="1.6" stroke-linecap="butt"/>
<line x1="448.08" y1="684.39" x2="426.85" y2="647.61" stroke="#666" stroke-width="1.6" stroke-linecap="butt"/>
<line x1="451.55" y1="682.39" x2="430.31" y2="645.61" stroke="#666" stroke-width="1.6" stroke-linecap="butt"/>
<line x1="455.01" y1="680.39" x2="433.78" y2="643.61" stroke="#666" stroke-width="1.6" stroke-linecap="butt"/>
<line x1="458.47" y1="678.39" x2="437.24" y2="641.61" stroke="#666" stroke-width="1.6" stroke-linecap="butt"/>
<line x1="461.94" y1="676.39" x2="440.7" y2="639.61" stroke="#666" stroke-width="1.6" stroke-linecap="butt"/>
<line x1="465.4" y1="674.39" x2="444.17" y2="637.61" stroke="#666" stroke-width="1.6" stroke-linecap="butt"/>
<line x1="468.87" y1="672.39" x2="447.63" y2="635.61" stroke="#666" stroke-width="1.6" stroke-linecap="butt"/>
<line x1="472.33" y1="670.39" x2="451.1" y2="633.61" stroke="#666" stroke-width="1.6" stroke-linecap="butt"/>
<line x1="475.8" y1="668.39" x2="454.56" y2="631.61" stroke="#666" stroke-width="1.6" stroke-linecap="butt"/>
<line x1="479.26" y1="666.39" x2="458.03" y2="629.61" stroke="#666" stroke-width="1.6" stroke-linecap="butt"/>
<line x1="482.72" y1="664.39" x2="461.49" y2="627.61" stroke="#666" stroke-width="1.6" stroke-linecap="butt"/>
<line x1="486.19" y1="662.39" x2="464.95" y2="625.61" stroke="#666" stroke-width="1.6" stroke-linecap="butt"/>
<line x1="489.65" y1="660.39" x2="468.42" y2="623.61" stroke="#666" stroke-width="1.6" stroke-linecap="butt"/>
<line x1="493.12" y1="658.39" x2="471.88" y2="621.61" stroke="#666" stroke-width="1.6" stroke-linecap="butt"/>
</g>
<path d="M436 641 L432 641 L432 662" stroke="#222" stroke-width="3" fill="none" stroke-linejoin="round" />
<path d="M461.5 641 L465.5 641 L465.5 662" stroke="#222" stroke-width="3" fill="none" stroke-linejoin="round" />
<path d="M408 694.8 C405.08 696.43 403.73 698.43 402.5 700.8 C401.27 703.17 400.63 706.2 400.6 709 C400.57 711.8 401.23 715.18 402.3 717.6 C403.37 720.02 405.05 721.67 407 723.5 C408.95 725.33 411.83 726.68 414 728.6 C416.17 730.52 418 732.43 420 735 C422 737.57 423.4 741.42 426 744 C428.6 746.58 432 749.1 435.6 750.5 C439.2 751.9 443.6 752.9 447.6 752.4 C451.6 751.9 456.4 749.07 459.6 747.5 C462.8 745.93 464.4 744.17 466.8 743 C469.2 741.83 471.6 741.17 474 740.5 C476.4 739.83 478.87 739.92 481.2 739 C483.53 738.08 486.17 736.67 488 735 C489.83 733.33 491.1 731.9 492.2 729 C493.3 726.1 494.58 721.5 494.6 717.6 C494.62 713.7 493.73 708.87 492.3 705.6 C490.87 702.33 488.38 700.1 486 698 C483.62 695.9 484.33 694.5 478 693 C471.67 691.5 457.67 689.33 448 689 C438.33 688.67 426.67 690.03 420 691 C413.33 691.97 410.92 693.17 408 694.8 Z" stroke="#2e2e2e" stroke-width="2.4" fill="#fff" stroke-linejoin="round" />
<path d="M412 696.92 C409.38 698.39 408.16 700.19 407.05 702.32 C405.94 704.45 405.37 707.18 405.34 709.7 C405.31 712.22 405.91 715.27 406.87 717.44 C407.83 719.62 409.35 721.1 411.1 722.75 C412.86 724.4 415.45 725.62 417.4 727.34 C419.35 729.07 421 730.79 422.8 733.1 C424.6 735.41 425.86 738.88 428.2 741.2 C430.54 743.53 433.6 745.79 436.84 747.05 C440.08 748.31 444.04 749.21 447.64 748.76 C451.24 748.31 455.56 745.76 458.44 744.35 C461.32 742.94 462.76 741.35 464.92 740.3 C467.08 739.25 469.24 738.65 471.4 738.05 C473.56 737.45 475.78 737.53 477.88 736.7 C479.98 735.88 482.35 734.6 484 733.1 C485.65 731.6 486.79 730.31 487.78 727.7 C488.77 725.09 489.93 720.95 489.94 717.44 C489.95 713.93 489.16 709.58 487.87 706.64 C486.58 703.7 484.34 701.69 482.2 699.8 C480.06 697.91 480.7 696.65 475 695.3 C469.3 693.95 456.7 692 448 691.7 C439.3 691.4 428.8 692.63 422.8 693.5 C416.8 694.37 414.62 695.45 412 696.92 Z" stroke="#3a3a3a" stroke-width="2.1" fill="none" stroke-linejoin="round" />
<path d="M418.4 700.31 C416.24 701.52 415.24 703 414.33 704.75 C413.42 706.5 412.95 708.75 412.92 710.82 C412.9 712.89 413.39 715.4 414.18 717.18 C414.97 718.97 416.22 720.19 417.66 721.55 C419.1 722.91 421.24 723.91 422.84 725.32 C424.44 726.74 425.8 728.16 427.28 730.06 C428.76 731.96 429.8 734.81 431.72 736.72 C433.64 738.63 436.16 740.49 438.82 741.53 C441.49 742.57 444.74 743.31 447.7 742.94 C450.66 742.57 454.22 740.47 456.58 739.31 C458.95 738.15 460.14 736.84 461.91 735.98 C463.69 735.12 465.46 734.62 467.24 734.13 C469.02 733.64 470.84 733.7 472.57 733.02 C474.29 732.34 476.24 731.29 477.6 730.06 C478.96 728.83 479.89 727.77 480.71 725.62 C481.52 723.47 482.47 720.07 482.48 717.18 C482.5 714.3 481.84 710.72 480.78 708.3 C479.72 705.89 477.88 704.23 476.12 702.68 C474.36 701.13 474.89 700.09 470.2 698.98 C465.51 697.87 455.15 696.27 448 696.02 C440.85 695.77 432.21 696.78 427.28 697.5 C422.35 698.22 420.56 699.1 418.4 700.31 Z" stroke="#444" stroke-width="2.1" fill="none" stroke-linejoin="round" />
<rect x="413" y="731" width="9.5" height="12" stroke="#333" stroke-width="2.4" fill="#fff"/>
<rect x="473" y="701" width="13" height="10" stroke="#333" stroke-width="2.4" fill="#fff"/>
<line x1="392" y1="709.8" x2="503" y2="709.8" stroke="#999" stroke-width="1.9" stroke-linecap="butt"/>
<circle cx="448.3" cy="709.8" r="18" stroke="#3a3a3a" stroke-width="2.2" fill="#fff"/>
<circle cx="448.3" cy="709.8" r="14.2" stroke="#444" stroke-width="2.1" fill="none"/>
<circle cx="448.3" cy="709.8" r="10.2" stroke="#444" stroke-width="2.1" fill="none"/>
<circle cx="448.3" cy="709.8" r="5.6" stroke="#666" stroke-width="2.2" fill="#aaa"/>
<path d="M412.5 671.2 L485.2 671.2 L485.2 696 L462 696 L462 690 L435.5 690 L435.5 696 L412.5 696 Z" stroke="none" stroke-width="0" fill="#fff" stroke-linejoin="round" />
<path d="M441.5 671.2 L412.5 671.2 L412.5 696 L435.5 696" stroke="#2e2e2e" stroke-width="2.8" fill="none" stroke-linejoin="round" />
<path d="M455.5 671.2 L485.2 671.2 L485.2 696 L462 696" stroke="#2e2e2e" stroke-width="2.8" fill="none" stroke-linejoin="round" />
<rect x="416.2" y="676.6" width="17.2" height="17.2" stroke="#3a3a3a" stroke-width="2.6" fill="#8a8a8a"/>
<circle cx="424.8" cy="685.2" r="6.2" stroke="#1c1c1c" stroke-width="4.2" fill="#e6e6e6"/>
<rect x="464" y="676.6" width="17.2" height="17.2" stroke="#3a3a3a" stroke-width="2.6" fill="#8a8a8a"/>
<circle cx="472.6" cy="685.2" r="6.2" stroke="#1c1c1c" stroke-width="4.2" fill="#e6e6e6"/>
<line x1="402" y1="685" x2="412" y2="685" stroke="#989898" stroke-width="1.8" stroke-linecap="butt"/>
<line x1="485" y1="685" x2="492" y2="685" stroke="#989898" stroke-width="1.8" stroke-linecap="butt"/>
<path d="M441.5 683 L436 687 L436 696 M455.5 683 L461.5 687 L461.5 696" stroke="#3c3c3c" stroke-width="2.2" fill="none" stroke-linejoin="round" />
<line x1="441.5" y1="684.5" x2="455.5" y2="684.5" stroke="#555" stroke-width="2" stroke-linecap="butt"/>
<path d="M433 751 L431.5 753 L431.5 772 L436.3 781.5 L461.8 781.5 L466.6 772 L466.6 753 L465 751" stroke="#3a3a3a" stroke-width="2.6" fill="#fff" stroke-linejoin="round" />
<line x1="432" y1="751.2" x2="466" y2="751.2" stroke="#333" stroke-width="2.4" stroke-linecap="butt"/>
<line x1="433" y1="755" x2="465" y2="755" stroke="#888" stroke-width="2" stroke-linecap="butt"/>
<line x1="431.5" y1="760.5" x2="466.6" y2="760.5" stroke="#333" stroke-width="2.8" stroke-linecap="butt"/>
<line x1="435" y1="781.3" x2="463" y2="781.3" stroke="#333" stroke-width="3" stroke-linecap="butt"/>
<line x1="436.5" y1="761" x2="436.5" y2="781" stroke="#8a8a8a" stroke-width="2" stroke-linecap="butt"/>
<line x1="439.8" y1="761" x2="439.8" y2="781" stroke="#8a8a8a" stroke-width="2" stroke-linecap="butt"/>
<line x1="457.5" y1="761" x2="457.5" y2="781" stroke="#8a8a8a" stroke-width="2" stroke-linecap="butt"/>
<line x1="460.8" y1="761" x2="460.8" y2="781" stroke="#8a8a8a" stroke-width="2" stroke-linecap="butt"/>
<line x1="443.4" y1="760.5" x2="443.4" y2="781.5" stroke="#2a2a2a" stroke-width="3" stroke-linecap="butt"/>
<line x1="453.8" y1="760.5" x2="453.8" y2="781.5" stroke="#2a2a2a" stroke-width="3" stroke-linecap="butt"/>
<line x1="432" y1="771" x2="436" y2="779" stroke="#222" stroke-width="2.6" stroke-linecap="butt"/>
<line x1="466" y1="771" x2="462" y2="779" stroke="#222" stroke-width="2.6" stroke-linecap="butt"/>
<line x1="431.5" y1="761" x2="431.5" y2="783" stroke="#777" stroke-width="2.8" stroke-linecap="butt"/>
<line x1="466.6" y1="761" x2="466.6" y2="783" stroke="#555" stroke-width="3" stroke-linecap="butt"/>
<line x1="448.7" y1="147" x2="448.7" y2="800" stroke="#8c8c8c" stroke-width="1.9" stroke-dasharray="18 3.5 5 3.5" stroke-linecap="butt"/>
<line x1="332.5" y1="186" x2="332.5" y2="642" stroke="#a0a0a0" stroke-width="1.7" stroke-dasharray="18 3.5 5 3.5" stroke-linecap="butt"/>
<clipPath id="spk"><rect x="640" y="190" width="73.5" height="37"/><rect x="760.5" y="190" width="73.5" height="37"/></clipPath>
<g clip-path="url(#spk)">
<line x1="658" y1="190" x2="721" y2="218" stroke="#b0b0b0" stroke-width="1.7" stroke-linecap="butt"/>
<line x1="658" y1="227" x2="721" y2="199" stroke="#b0b0b0" stroke-width="1.7" stroke-linecap="butt"/>
<line x1="666" y1="190" x2="729" y2="218" stroke="#b0b0b0" stroke-width="1.7" stroke-linecap="butt"/>
<line x1="666" y1="227" x2="729" y2="199" stroke="#b0b0b0" stroke-width="1.7" stroke-linecap="butt"/>
<line x1="674" y1="190" x2="737" y2="218" stroke="#b0b0b0" stroke-width="1.7" stroke-linecap="butt"/>
<line x1="674" y1="227" x2="737" y2="199" stroke="#b0b0b0" stroke-width="1.7" stroke-linecap="butt"/>
<line x1="650" y1="190" x2="713" y2="218" stroke="#333" stroke-width="2.3" stroke-linecap="butt"/>
<line x1="683" y1="190" x2="713" y2="202.5" stroke="#333" stroke-width="2.3" stroke-linecap="butt"/>
<line x1="650" y1="227" x2="713" y2="199" stroke="#333" stroke-width="2.3" stroke-linecap="butt"/>
<line x1="683" y1="227" x2="713" y2="214.5" stroke="#333" stroke-width="2.3" stroke-linecap="butt"/>
<line x1="816" y1="190" x2="753" y2="218" stroke="#b0b0b0" stroke-width="1.7" stroke-linecap="butt"/>
<line x1="816" y1="227" x2="753" y2="199" stroke="#b0b0b0" stroke-width="1.7" stroke-linecap="butt"/>
<line x1="808" y1="190" x2="745" y2="218" stroke="#b0b0b0" stroke-width="1.7" stroke-linecap="butt"/>
<line x1="808" y1="227" x2="745" y2="199" stroke="#b0b0b0" stroke-width="1.7" stroke-linecap="butt"/>
<line x1="800" y1="190" x2="737" y2="218" stroke="#b0b0b0" stroke-width="1.7" stroke-linecap="butt"/>
<line x1="800" y1="227" x2="737" y2="199" stroke="#b0b0b0" stroke-width="1.7" stroke-linecap="butt"/>
<line x1="824" y1="190" x2="761" y2="218" stroke="#333" stroke-width="2.3" stroke-linecap="butt"/>
<line x1="791" y1="190" x2="761" y2="202.5" stroke="#333" stroke-width="2.3" stroke-linecap="butt"/>
<line x1="824" y1="227" x2="761" y2="199" stroke="#333" stroke-width="2.3" stroke-linecap="butt"/>
<line x1="791" y1="227" x2="761" y2="214.5" stroke="#333" stroke-width="2.3" stroke-linecap="butt"/>
</g>
<path d="M639.1 164.8 L834.1 164.8 A12.5 12.5 0 0 1 834.1 189.8 L639.1 189.8 A12.5 12.5 0 0 1 639.1 164.8 Z" stroke="#3a3a3a" stroke-width="2.4" fill="#fff" stroke-linejoin="round" />
<path d="M638.9 227 L834.3 227 A12.3 12.3 0 0 1 834.3 251.6 L638.9 251.6 A12.3 12.3 0 0 1 638.9 227 Z" stroke="#3a3a3a" stroke-width="2.4" fill="#fff" stroke-linejoin="round" />
<path d="M714 193 L713.3 200 L713.3 216 L715.5 223 L758.5 223 L760.7 216 L760.7 200 L760 193 Z" stroke="#3a3a3a" stroke-width="2.4" fill="#fff" stroke-linejoin="round" />
<line x1="712" y1="192.3" x2="762" y2="192.3" stroke="#3a3a3a" stroke-width="4" stroke-linecap="butt"/>
<line x1="710.5" y1="224.8" x2="763.5" y2="224.8" stroke="#3a3a3a" stroke-width="4" stroke-linecap="butt"/>
<rect x="719" y="168" width="34.5" height="21.5" stroke="#333" stroke-width="2.4" fill="#fff"/>
<line x1="727.5" y1="166" x2="727.5" y2="189.5" stroke="#333" stroke-width="2.6" stroke-linecap="butt"/>
<line x1="746" y1="166" x2="746" y2="189.5" stroke="#333" stroke-width="2.6" stroke-linecap="butt"/>
<line x1="719" y1="178.3" x2="753.5" y2="178.3" stroke="#333" stroke-width="2.2" stroke-linecap="butt"/>
<line x1="726.5" y1="166" x2="747" y2="166" stroke="#333" stroke-width="3.2" stroke-linecap="butt"/>
<line x1="712.7" y1="251.6" x2="712.7" y2="306" stroke="#333" stroke-width="2.5" stroke-linecap="butt"/>
<line x1="760" y1="251.6" x2="760" y2="306" stroke="#333" stroke-width="2.5" stroke-linecap="butt"/>
<rect x="682.5" y="306.5" width="35" height="23" stroke="#444" stroke-width="2.3" fill="#fff"/>
<line x1="690" y1="304" x2="690" y2="329.5" stroke="#333" stroke-width="2.4" stroke-linecap="butt"/>
<line x1="710" y1="304" x2="710" y2="329.5" stroke="#333" stroke-width="2.4" stroke-linecap="butt"/>
<line x1="689" y1="304" x2="711" y2="304" stroke="#333" stroke-width="2.6" stroke-linecap="butt"/>
<line x1="683" y1="329.5" x2="717" y2="329.5" stroke="#333" stroke-width="3" stroke-linecap="butt"/>
<rect x="756.5" y="306.5" width="35" height="23" stroke="#444" stroke-width="2.3" fill="#fff"/>
<line x1="784" y1="304" x2="784" y2="329.5" stroke="#333" stroke-width="2.4" stroke-linecap="butt"/>
<line x1="764" y1="304" x2="764" y2="329.5" stroke="#333" stroke-width="2.4" stroke-linecap="butt"/>
<line x1="785" y1="304" x2="763" y2="304" stroke="#333" stroke-width="2.6" stroke-linecap="butt"/>
<line x1="791" y1="329.5" x2="757" y2="329.5" stroke="#333" stroke-width="3" stroke-linecap="butt"/>
<rect x="679.7" y="331.8" width="114.3" height="26.8" stroke="#333" stroke-width="2.6" fill="none"/>
<line x1="691.2" y1="359" x2="691.2" y2="393" stroke="#2e2e2e" stroke-width="3.2" stroke-linecap="butt"/>
<line x1="710" y1="359" x2="710" y2="393" stroke="#2a2a2a" stroke-width="5.6" stroke-linecap="butt"/>
<line x1="762.6" y1="359" x2="762.6" y2="393" stroke="#2a2a2a" stroke-width="5.8" stroke-linecap="butt"/>
<line x1="782.2" y1="359" x2="782.2" y2="393" stroke="#2e2e2e" stroke-width="3.4" stroke-linecap="butt"/>
<path d="M793 424 L793 393.3 L680 393.3 L680 553.5" stroke="#3a3a3a" stroke-width="2.5" fill="none" stroke-linejoin="round" />
<line x1="679" y1="553.5" x2="793" y2="553.5" stroke="#333" stroke-width="3" stroke-linecap="butt"/>
<rect x="655" y="429" width="22.5" height="34.6" stroke="#444" stroke-width="2.4" fill="none"/>
<rect x="651.5" y="436.4" width="26" height="19.6" stroke="#3a3a3a" stroke-width="2.4" fill="none"/>
<line x1="652" y1="436.2" x2="652" y2="456.2" stroke="#2e2e2e" stroke-width="3.4" stroke-linecap="butt"/>
<line x1="678" y1="428.2" x2="678" y2="464.2" stroke="#333" stroke-width="4" stroke-linecap="butt"/>
<line x1="644" y1="446.2" x2="690" y2="446.2" stroke="#888" stroke-width="1.7" stroke-dasharray="12 3 3 3" stroke-linecap="butt"/>
<rect x="655" y="520.8" width="22.5" height="34.6" stroke="#444" stroke-width="2.4" fill="none"/>
<rect x="651.5" y="528.2" width="26" height="19.6" stroke="#3a3a3a" stroke-width="2.4" fill="none"/>
<line x1="652" y1="528" x2="652" y2="548" stroke="#2e2e2e" stroke-width="3.4" stroke-linecap="butt"/>
<line x1="678" y1="520" x2="678" y2="556" stroke="#333" stroke-width="4" stroke-linecap="butt"/>
<line x1="644" y1="538" x2="690" y2="538" stroke="#888" stroke-width="1.7" stroke-dasharray="12 3 3 3" stroke-linecap="butt"/>
<clipPath id="h8"><path d="M793 430.5 L920 430.5 L920 553.5 L793 553.5 L793 521.7 L858 521.7 L861.39 521.89 L864 522 L866.61 521.89 L869.21 521.54 L871.76 520.98 L874.26 520.19 L876.68 519.19 L879 517.98 L881.21 516.57 L883.28 514.98 L885.21 513.21 L886.98 511.28 L888.57 509.21 L889.98 507 L891.19 504.68 L892.19 502.26 L892.98 499.76 L893.54 497.21 L893.89 494.61 L894 492 L893.89 489.39 L893.54 486.79 L892.98 484.24 L892.19 481.74 L891.19 479.32 L889.98 477 L888.57 474.79 L886.98 472.72 L885.21 470.79 L883.28 469.02 L881.21 467.43 L879 466.02 L876.68 464.81 L874.26 463.81 L871.76 463.02 L869.21 462.46 L866.61 462.11 L864 462 L861.39 462.11 L858 462.3 L793 462.3 Z"/></clipPath>
<g clip-path="url(#h8)">
<line x1="844.23" y1="346.68" x2="997.25" y2="453.83" stroke="#969696" stroke-width="1.8" stroke-linecap="butt"/>
<line x1="837.81" y1="355.86" x2="990.83" y2="463" stroke="#969696" stroke-width="1.8" stroke-linecap="butt"/>
<line x1="831.38" y1="365.03" x2="984.4" y2="472.18" stroke="#969696" stroke-width="1.8" stroke-linecap="butt"/>
<line x1="824.96" y1="374.21" x2="977.98" y2="481.35" stroke="#969696" stroke-width="1.8" stroke-linecap="butt"/>
<line x1="818.54" y1="383.38" x2="971.55" y2="490.52" stroke="#969696" stroke-width="1.8" stroke-linecap="butt"/>
<line x1="812.11" y1="392.56" x2="965.13" y2="499.7" stroke="#969696" stroke-width="1.8" stroke-linecap="butt"/>
<line x1="805.69" y1="401.73" x2="958.7" y2="508.87" stroke="#969696" stroke-width="1.8" stroke-linecap="butt"/>
<line x1="799.26" y1="410.9" x2="952.28" y2="518.05" stroke="#969696" stroke-width="1.8" stroke-linecap="butt"/>
<line x1="792.84" y1="420.08" x2="945.86" y2="527.22" stroke="#969696" stroke-width="1.8" stroke-linecap="butt"/>
<line x1="786.42" y1="429.25" x2="939.43" y2="536.4" stroke="#969696" stroke-width="1.8" stroke-linecap="butt"/>
<line x1="779.99" y1="438.43" x2="933.01" y2="545.57" stroke="#969696" stroke-width="1.8" stroke-linecap="butt"/>
<line x1="773.57" y1="447.6" x2="926.58" y2="554.75" stroke="#969696" stroke-width="1.8" stroke-linecap="butt"/>
<line x1="767.14" y1="456.78" x2="920.16" y2="563.92" stroke="#969696" stroke-width="1.8" stroke-linecap="butt"/>
<line x1="760.72" y1="465.95" x2="913.74" y2="573.1" stroke="#969696" stroke-width="1.8" stroke-linecap="butt"/>
<line x1="754.3" y1="475.13" x2="907.31" y2="582.27" stroke="#969696" stroke-width="1.8" stroke-linecap="butt"/>
<line x1="747.87" y1="484.3" x2="900.89" y2="591.44" stroke="#969696" stroke-width="1.8" stroke-linecap="butt"/>
<line x1="741.45" y1="493.48" x2="894.46" y2="600.62" stroke="#969696" stroke-width="1.8" stroke-linecap="butt"/>
<line x1="735.02" y1="502.65" x2="888.04" y2="609.79" stroke="#969696" stroke-width="1.8" stroke-linecap="butt"/>
<line x1="728.6" y1="511.82" x2="881.62" y2="618.97" stroke="#969696" stroke-width="1.8" stroke-linecap="butt"/>
<line x1="722.17" y1="521" x2="875.19" y2="628.14" stroke="#969696" stroke-width="1.8" stroke-linecap="butt"/>
<line x1="715.75" y1="530.17" x2="868.77" y2="637.32" stroke="#969696" stroke-width="1.8" stroke-linecap="butt"/>
</g>
<path d="M793 430.5 L920 430.5 L920 553.5 L793 553.5" stroke="#3a3a3a" stroke-width="2.6" fill="none" stroke-linejoin="round" />
<line x1="793" y1="462.3" x2="864" y2="462.3" stroke="#3a3a3a" stroke-width="2.4" stroke-linecap="butt"/>
<line x1="793" y1="521.7" x2="864" y2="521.7" stroke="#3a3a3a" stroke-width="2.4" stroke-linecap="butt"/>
<line x1="826" y1="462.3" x2="826" y2="521.7" stroke="#444" stroke-width="2.6" stroke-linecap="butt"/>
<circle cx="864" cy="492" r="30" stroke="#3a3a3a" stroke-width="2.3" fill="#fff"/>
<line x1="826" y1="462.3" x2="864" y2="462.3" stroke="#3a3a3a" stroke-width="2.4" stroke-linecap="butt"/>
<line x1="826" y1="521.7" x2="864" y2="521.7" stroke="#3a3a3a" stroke-width="2.4" stroke-linecap="butt"/>
<clipPath id="h9"><path d="M793 424 L767 448 L765 475 L826 475 L826 462.3 L793 462.3 Z"/></clipPath>
<g clip-path="url(#h9)">
<line x1="724.77" y1="437.83" x2="791.29" y2="377.94" stroke="#969696" stroke-width="1.7" stroke-linecap="butt"/>
<line x1="730.12" y1="443.78" x2="796.64" y2="383.88" stroke="#969696" stroke-width="1.7" stroke-linecap="butt"/>
<line x1="735.47" y1="449.72" x2="801.99" y2="389.83" stroke="#969696" stroke-width="1.7" stroke-linecap="butt"/>
<line x1="740.83" y1="455.67" x2="807.35" y2="395.77" stroke="#969696" stroke-width="1.7" stroke-linecap="butt"/>
<line x1="746.18" y1="461.61" x2="812.7" y2="401.72" stroke="#969696" stroke-width="1.7" stroke-linecap="butt"/>
<line x1="751.53" y1="467.56" x2="818.05" y2="407.66" stroke="#969696" stroke-width="1.7" stroke-linecap="butt"/>
<line x1="756.89" y1="473.5" x2="823.41" y2="413.61" stroke="#969696" stroke-width="1.7" stroke-linecap="butt"/>
<line x1="762.24" y1="479.45" x2="828.76" y2="419.55" stroke="#969696" stroke-width="1.7" stroke-linecap="butt"/>
<line x1="767.59" y1="485.39" x2="834.11" y2="425.5" stroke="#969696" stroke-width="1.7" stroke-linecap="butt"/>
<line x1="772.95" y1="491.34" x2="839.47" y2="431.44" stroke="#969696" stroke-width="1.7" stroke-linecap="butt"/>
<line x1="778.3" y1="497.28" x2="844.82" y2="437.39" stroke="#969696" stroke-width="1.7" stroke-linecap="butt"/>
<line x1="783.65" y1="503.23" x2="850.17" y2="443.33" stroke="#969696" stroke-width="1.7" stroke-linecap="butt"/>
<line x1="789.01" y1="509.17" x2="855.53" y2="449.28" stroke="#969696" stroke-width="1.7" stroke-linecap="butt"/>
<line x1="794.36" y1="515.12" x2="860.88" y2="455.22" stroke="#969696" stroke-width="1.7" stroke-linecap="butt"/>
<line x1="799.71" y1="521.06" x2="866.23" y2="461.17" stroke="#969696" stroke-width="1.7" stroke-linecap="butt"/>
</g>
<clipPath id="h10"><path d="M793 553 L776 540 L768 530 L764 509 L826 509 L826 521.7 L793 521.7 Z"/></clipPath>
<g clip-path="url(#h10)">
<line x1="727.57" y1="520.39" x2="791.5" y2="462.83" stroke="#969696" stroke-width="1.7" stroke-linecap="butt"/>
<line x1="732.92" y1="526.34" x2="796.85" y2="468.78" stroke="#969696" stroke-width="1.7" stroke-linecap="butt"/>
<line x1="738.28" y1="532.29" x2="802.21" y2="474.72" stroke="#969696" stroke-width="1.7" stroke-linecap="butt"/>
<line x1="743.63" y1="538.23" x2="807.56" y2="480.67" stroke="#969696" stroke-width="1.7" stroke-linecap="butt"/>
<line x1="748.98" y1="544.18" x2="812.91" y2="486.61" stroke="#969696" stroke-width="1.7" stroke-linecap="butt"/>
<line x1="754.34" y1="550.12" x2="818.27" y2="492.56" stroke="#969696" stroke-width="1.7" stroke-linecap="butt"/>
<line x1="759.69" y1="556.07" x2="823.62" y2="498.5" stroke="#969696" stroke-width="1.7" stroke-linecap="butt"/>
<line x1="765.04" y1="562.01" x2="828.97" y2="504.45" stroke="#969696" stroke-width="1.7" stroke-linecap="butt"/>
<line x1="770.4" y1="567.96" x2="834.33" y2="510.39" stroke="#969696" stroke-width="1.7" stroke-linecap="butt"/>
<line x1="775.75" y1="573.9" x2="839.68" y2="516.34" stroke="#969696" stroke-width="1.7" stroke-linecap="butt"/>
<line x1="781.1" y1="579.85" x2="845.03" y2="522.28" stroke="#969696" stroke-width="1.7" stroke-linecap="butt"/>
<line x1="786.45" y1="585.79" x2="850.38" y2="528.23" stroke="#969696" stroke-width="1.7" stroke-linecap="butt"/>
<line x1="791.81" y1="591.74" x2="855.74" y2="534.17" stroke="#969696" stroke-width="1.7" stroke-linecap="butt"/>
<line x1="797.16" y1="597.68" x2="861.09" y2="540.12" stroke="#969696" stroke-width="1.7" stroke-linecap="butt"/>
<line x1="802.51" y1="603.63" x2="866.44" y2="546.06" stroke="#969696" stroke-width="1.7" stroke-linecap="butt"/>
</g>
<path d="M793 424 L767 448 L765 475" stroke="#5a5a5a" stroke-width="2.2" fill="none" stroke-linejoin="round" />
<path d="M793 553 L776 540 Q766 530 764 509" stroke="#6a6a6a" stroke-width="2.2" fill="none" stroke-linejoin="round" />
<line x1="764" y1="475" x2="826" y2="475" stroke="#444" stroke-width="2.4" stroke-linecap="butt"/>
<line x1="762" y1="509" x2="826" y2="509" stroke="#444" stroke-width="2.4" stroke-linecap="butt"/>
<path d="M765 475 Q758 492 763 509" stroke="#999" stroke-width="1.8" fill="none" stroke-linejoin="round" />
<line x1="793" y1="393" x2="793" y2="462.3" stroke="#3a3a3a" stroke-width="2.5" stroke-linecap="butt"/>
<line x1="793" y1="521.7" x2="793" y2="553.5" stroke="#3a3a3a" stroke-width="2.5" stroke-linecap="butt"/>
<rect x="803" y="463.5" width="13" height="8" stroke="#2e2e2e" stroke-width="2.4" fill="#6a6a6a"/>
<rect x="803" y="512.5" width="13" height="8" stroke="#2e2e2e" stroke-width="2.4" fill="#6a6a6a"/>
<line x1="684" y1="560" x2="788" y2="560" stroke="#444" stroke-width="2.2" stroke-linecap="butt"/>
<path d="M681 554 L685 560 L685 604 L787.5 604 L787.5 560 L792 554" stroke="#444" stroke-width="2.3" fill="none" stroke-linejoin="round" />
<line x1="704" y1="560" x2="704" y2="604" stroke="#444" stroke-width="2.4" stroke-linecap="butt"/>
<line x1="769" y1="560" x2="769" y2="604" stroke="#444" stroke-width="2.4" stroke-linecap="butt"/>
<line x1="704" y1="604" x2="704" y2="611" stroke="#444" stroke-width="2.4" stroke-linecap="butt"/>
<line x1="769" y1="604" x2="769" y2="611" stroke="#444" stroke-width="2.4" stroke-linecap="butt"/>
<line x1="703" y1="611" x2="770" y2="611" stroke="#444" stroke-width="2.2" stroke-linecap="butt"/>
<line x1="699.5" y1="615.3" x2="774" y2="615.3" stroke="#3a3a3a" stroke-width="3" stroke-linecap="butt"/>
<line x1="704" y1="611" x2="700" y2="615" stroke="#444" stroke-width="2.2" stroke-linecap="butt"/>
<line x1="769" y1="611" x2="773.3" y2="615" stroke="#444" stroke-width="2.2" stroke-linecap="butt"/>
<line x1="773.2" y1="615" x2="773.2" y2="654" stroke="#555" stroke-width="2.8" stroke-linecap="butt"/>
<line x1="769.6" y1="617" x2="769.6" y2="652" stroke="#9a9a9a" stroke-width="2" stroke-linecap="butt"/>
<line x1="762" y1="653.3" x2="774.5" y2="653.3" stroke="#333" stroke-width="2.6" stroke-linecap="butt"/>
<line x1="762" y1="658.5" x2="773" y2="658.5" stroke="#7a7a7a" stroke-width="2" stroke-linecap="butt"/>
<line x1="771.7" y1="653" x2="771.7" y2="658.5" stroke="#333" stroke-width="3" stroke-linecap="butt"/>
<line x1="769" y1="658" x2="769" y2="670" stroke="#333" stroke-width="2.4" stroke-linecap="butt"/>
<path d="M764.5 670 L764.5 650 Q763.5 643 757 640.5" stroke="#3a3a3a" stroke-width="2.2" fill="none" stroke-linejoin="round" />
<clipPath id="h11"><path d="M764.5 670 L764.5 650 L762 643 L756.5 641 L756.5 670 Z"/></clipPath>
<g clip-path="url(#h11)">
<line x1="754.08" y1="687.05" x2="728.31" y2="656.35" stroke="#777" stroke-width="1.6" stroke-linecap="butt"/>
<line x1="757.3" y1="684.35" x2="731.53" y2="653.65" stroke="#777" stroke-width="1.6" stroke-linecap="butt"/>
<line x1="760.51" y1="681.65" x2="734.75" y2="650.95" stroke="#777" stroke-width="1.6" stroke-linecap="butt"/>
<line x1="763.73" y1="678.95" x2="737.97" y2="648.25" stroke="#777" stroke-width="1.6" stroke-linecap="butt"/>
<line x1="766.95" y1="676.25" x2="741.18" y2="645.55" stroke="#777" stroke-width="1.6" stroke-linecap="butt"/>
<line x1="770.17" y1="673.55" x2="744.4" y2="642.85" stroke="#777" stroke-width="1.6" stroke-linecap="butt"/>
<line x1="773.38" y1="670.85" x2="747.62" y2="640.15" stroke="#777" stroke-width="1.6" stroke-linecap="butt"/>
<line x1="776.6" y1="668.15" x2="750.83" y2="637.45" stroke="#777" stroke-width="1.6" stroke-linecap="butt"/>
<line x1="779.82" y1="665.45" x2="754.05" y2="634.75" stroke="#777" stroke-width="1.6" stroke-linecap="butt"/>
<line x1="783.03" y1="662.75" x2="757.27" y2="632.05" stroke="#777" stroke-width="1.6" stroke-linecap="butt"/>
<line x1="786.25" y1="660.05" x2="760.49" y2="629.35" stroke="#777" stroke-width="1.6" stroke-linecap="butt"/>
<line x1="789.47" y1="657.35" x2="763.7" y2="626.65" stroke="#777" stroke-width="1.6" stroke-linecap="butt"/>
<line x1="792.69" y1="654.65" x2="766.92" y2="623.95" stroke="#777" stroke-width="1.6" stroke-linecap="butt"/>
</g>
<line x1="700.4" y1="615" x2="700.4" y2="654" stroke="#555" stroke-width="2.8" stroke-linecap="butt"/>
<line x1="704" y1="617" x2="704" y2="652" stroke="#9a9a9a" stroke-width="2" stroke-linecap="butt"/>
<line x1="711.6" y1="653.3" x2="699.1" y2="653.3" stroke="#333" stroke-width="2.6" stroke-linecap="butt"/>
<line x1="711.6" y1="658.5" x2="700.6" y2="658.5" stroke="#7a7a7a" stroke-width="2" stroke-linecap="butt"/>
<line x1="701.9" y1="653" x2="701.9" y2="658.5" stroke="#333" stroke-width="3" stroke-linecap="butt"/>
<line x1="704.6" y1="658" x2="704.6" y2="670" stroke="#333" stroke-width="2.4" stroke-linecap="butt"/>
<path d="M709.1 670 L709.1 650 Q710.1 643 716.6 640.5" stroke="#3a3a3a" stroke-width="2.2" fill="none" stroke-linejoin="round" />
<clipPath id="h12"><path d="M709.1 670 L709.1 650 L711.6 643 L717.1 641 L717.1 670 Z"/></clipPath>
<g clip-path="url(#h12)">
<line x1="680.91" y1="654.65" x2="706.68" y2="623.95" stroke="#777" stroke-width="1.6" stroke-linecap="butt"/>
<line x1="684.13" y1="657.35" x2="709.9" y2="626.65" stroke="#777" stroke-width="1.6" stroke-linecap="butt"/>
<line x1="687.35" y1="660.05" x2="713.11" y2="629.35" stroke="#777" stroke-width="1.6" stroke-linecap="butt"/>
<line x1="690.57" y1="662.75" x2="716.33" y2="632.05" stroke="#777" stroke-width="1.6" stroke-linecap="butt"/>
<line x1="693.78" y1="665.45" x2="719.55" y2="634.75" stroke="#777" stroke-width="1.6" stroke-linecap="butt"/>
<line x1="697" y1="668.15" x2="722.77" y2="637.45" stroke="#777" stroke-width="1.6" stroke-linecap="butt"/>
<line x1="700.22" y1="670.85" x2="725.98" y2="640.15" stroke="#777" stroke-width="1.6" stroke-linecap="butt"/>
<line x1="703.43" y1="673.55" x2="729.2" y2="642.85" stroke="#777" stroke-width="1.6" stroke-linecap="butt"/>
<line x1="706.65" y1="676.25" x2="732.42" y2="645.55" stroke="#777" stroke-width="1.6" stroke-linecap="butt"/>
<line x1="709.87" y1="678.95" x2="735.63" y2="648.25" stroke="#777" stroke-width="1.6" stroke-linecap="butt"/>
<line x1="713.09" y1="681.65" x2="738.85" y2="650.95" stroke="#777" stroke-width="1.6" stroke-linecap="butt"/>
<line x1="716.3" y1="684.35" x2="742.07" y2="653.65" stroke="#777" stroke-width="1.6" stroke-linecap="butt"/>
<line x1="719.52" y1="687.05" x2="745.29" y2="656.35" stroke="#777" stroke-width="1.6" stroke-linecap="butt"/>
</g>
<line x1="702" y1="669.8" x2="771.5" y2="669.8" stroke="#333" stroke-width="3" stroke-linecap="butt"/>
<path d="M719.4 670 L719.4 643 Q724 639.5 729 641 Q733 643 737 643 Q741 643 745 641 Q750 639.5 756.5 643 L756.5 670" stroke="#333" stroke-width="2.3" fill="none" stroke-linejoin="round" />
<line x1="619" y1="178" x2="853" y2="178" stroke="#888" stroke-width="1.8" stroke-dasharray="20 3 3 3" stroke-linecap="butt"/>
<line x1="619" y1="239" x2="853" y2="239" stroke="#777" stroke-width="1.8" stroke-dasharray="20 3 3 3" stroke-linecap="butt"/>
<line x1="639" y1="156" x2="639" y2="201" stroke="#999" stroke-width="1.7" stroke-dasharray="14 3 3 3" stroke-linecap="butt"/>
<line x1="639" y1="218" x2="639" y2="261" stroke="#999" stroke-width="1.7" stroke-dasharray="14 3 3 3" stroke-linecap="butt"/>
<line x1="834" y1="156" x2="834" y2="201" stroke="#999" stroke-width="1.7" stroke-dasharray="14 3 3 3" stroke-linecap="butt"/>
<line x1="834" y1="218" x2="834" y2="261" stroke="#999" stroke-width="1.7" stroke-dasharray="14 3 3 3" stroke-linecap="butt"/>
<line x1="737" y1="150" x2="737" y2="682" stroke="#808080" stroke-width="1.9" stroke-dasharray="18 3.5 5 3.5" stroke-linecap="butt"/>
<line x1="700" y1="296" x2="700" y2="403" stroke="#999" stroke-width="1.6" stroke-dasharray="14 3 3 3" stroke-linecap="butt"/>
<line x1="773" y1="296" x2="773" y2="403" stroke="#999" stroke-width="1.6" stroke-dasharray="14 3 3 3" stroke-linecap="butt"/>
<line x1="667" y1="492" x2="930" y2="492" stroke="#888" stroke-width="2" stroke-dasharray="22 3 3 3" stroke-linecap="butt"/>
<line x1="864" y1="417" x2="864" y2="563" stroke="#999" stroke-width="1.8" stroke-dasharray="22 3 3 3" stroke-linecap="butt"/>
<line x1="392.3" y1="903" x2="392.3" y2="944" stroke="#444" stroke-width="2.8" stroke-linecap="butt"/>
<polygon points="392.3,885 397.2,906 387.4,906" fill="#2a2a2a"/>
<text x="416" y="111" font-size="25" fill="#9a9a9a" text-anchor="start" textLength="66" lengthAdjust="spacingAndGlyphs">M60x2</text>
<text x="427" y="138" font-size="23" fill="#9a9a9a" text-anchor="start" textLength="37" lengthAdjust="spacingAndGlyphs">ø32</text>
<text x="379" y="805" font-size="24" fill="#9a9a9a" text-anchor="start" textLength="37" lengthAdjust="spacingAndGlyphs">ø10</text>
<text x="335" y="829" font-size="25" fill="#9a9a9a" text-anchor="start" textLength="84" lengthAdjust="spacingAndGlyphs">M27x1,5</text>
<text x="347" y="864" font-size="25" fill="#9a9a9a" text-anchor="start" textLength="41" lengthAdjust="spacingAndGlyphs">237</text>
<text x="704" y="717.5" font-size="24" fill="#9a9a9a" text-anchor="start" textLength="61" lengthAdjust="spacingAndGlyphs">ø60x2</text>
<text x="355" y="940" font-size="39" fill="#a4a4a4" text-anchor="start" textLength="23" lengthAdjust="spacingAndGlyphs">A</text>
<text x="728" y="120.5" font-size="37" fill="#a4a4a4" text-anchor="start" textLength="22" lengthAdjust="spacingAndGlyphs">A</text>
<text x="202.5" y="494" font-size="27" fill="#9a9a9a" text-anchor="start" textLength="40" lengthAdjust="spacingAndGlyphs" transform="rotate(-90 202.5 494)">535</text>
<text x="610.5" y="436" font-size="26" fill="#9a9a9a" text-anchor="start" textLength="39" lengthAdjust="spacingAndGlyphs" transform="rotate(-90 610.5 436)">400</text>
</g>
</svg>
</body>
</html>
